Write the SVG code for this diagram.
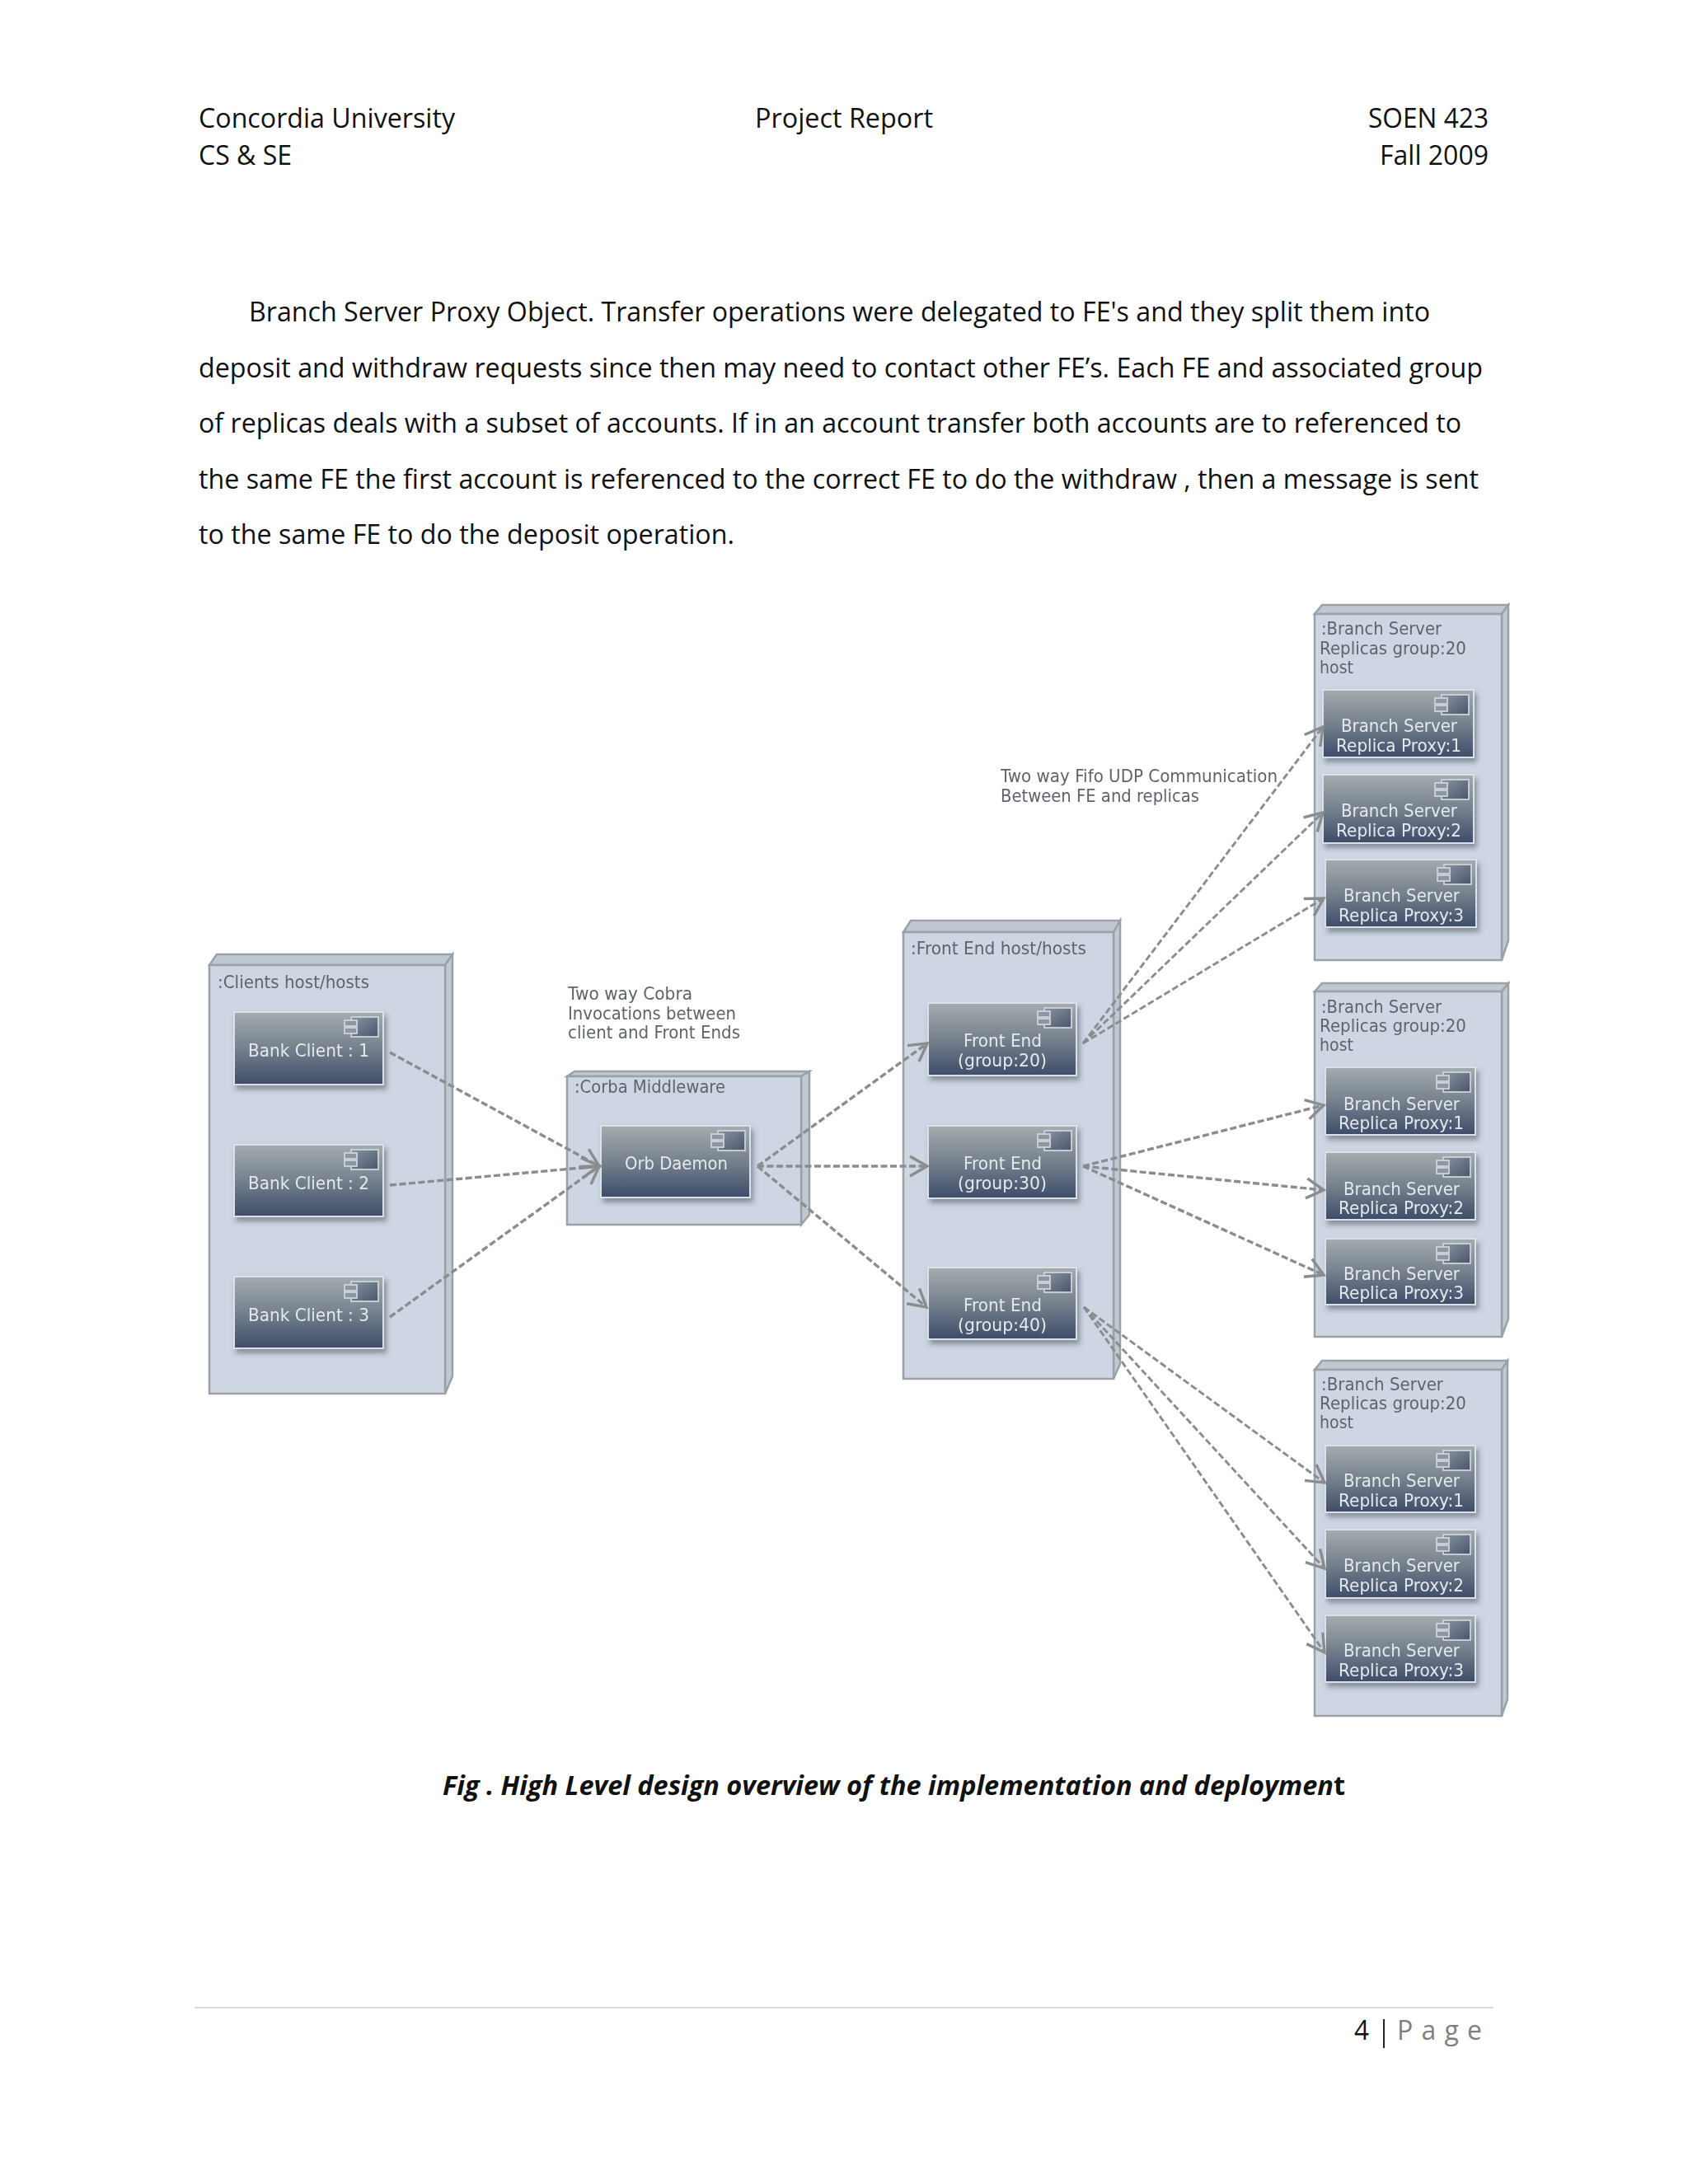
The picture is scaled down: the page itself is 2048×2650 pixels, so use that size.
<svg xmlns="http://www.w3.org/2000/svg" width="2048" height="2650" viewBox="0 0 2048 2650">
<style>
.p{font-family:"Open Sans","Liberation Sans",sans-serif;font-size:32px;fill:#111;font-variant-ligatures:none}
.cap{font-family:"Open Sans","Liberation Sans",sans-serif;font-size:33px;font-weight:700;font-style:italic;fill:#111;font-variant-ligatures:none}
.capt{font-style:normal}
.d{font-family:"DejaVu Sans","Liberation Sans",sans-serif;font-size:20.5px;fill:#5f646b}
.w{font-family:"DejaVu Sans","Liberation Sans",sans-serif;font-size:20.5px;fill:#e4e9ed}
.nf{fill:#ced6e3;stroke:#9aa2a8;stroke-width:2.5}
.ns{fill:#c0c8d2;stroke:#9aa2a8;stroke-width:2.5}
.b{fill:url(#g);stroke:#dbe1e8;stroke-width:2;filter:url(#sh)}
.c{fill:none;stroke:#8a8c8e;stroke-width:3.4;stroke-dasharray:8 3.5;marker-end:url(#a)}
.t{stroke-width:2.9}
</style>
<defs>
<linearGradient id="g" x1="0" y1="0" x2="0" y2="1"><stop offset="0" stop-color="#a5acaf"/><stop offset=".5" stop-color="#75818d"/><stop offset="1" stop-color="#3f4c69"/></linearGradient>
<linearGradient id="ig" x1="0" y1="0" x2="1" y2="1"><stop offset="0" stop-color="#8a95a0"/><stop offset="1" stop-color="#48556c"/></linearGradient>
<filter id="sh" x="-10%" y="-10%" width="125%" height="130%"><feDropShadow dx="3" dy="5" stdDeviation="3" flood-color="#3b4450" flood-opacity=".5"/></filter>
<filter id="soft" x="0" y="0" width="100%" height="100%" filterUnits="userSpaceOnUse" primitiveUnits="userSpaceOnUse"><feGaussianBlur stdDeviation=".55"/></filter>
<marker id="a" markerUnits="userSpaceOnUse" markerWidth="30" markerHeight="34" refX="24" refY="17" orient="auto"><path d="M3 5 L24 17 L3 29" fill="none" stroke="#8a8c8e" stroke-width="3.4"/></marker>
<g id="ic"><rect x="8" y="0" width="33" height="24" fill="url(#ig)" stroke="#ccd3da" stroke-width="1.8"/><rect x="0" y="4" width="15" height="7" fill="#8d97a2" stroke="#ccd3da" stroke-width="1.8"/><rect x="0" y="13" width="15" height="7" fill="#8d97a2" stroke="#ccd3da" stroke-width="1.8"/></g>
</defs>
<rect width="2048" height="2650" fill="#fff"/>

<g id="page-text">
<text class="p" x="241" y="155" textLength="311" lengthAdjust="spacingAndGlyphs">Concordia University</text>
<text class="p" x="916" y="155" textLength="216" lengthAdjust="spacingAndGlyphs">Project Report</text>
<text class="p" x="1660" y="155" textLength="146" lengthAdjust="spacingAndGlyphs">SOEN 423</text>
<text class="p" x="241" y="200" textLength="113" lengthAdjust="spacingAndGlyphs">CS &amp; SE</text>
<text class="p" x="1674" y="200" textLength="132" lengthAdjust="spacingAndGlyphs">Fall 2009</text>
<text class="p" x="302" y="390" textLength="1433" lengthAdjust="spacingAndGlyphs">Branch Server Proxy Object. Transfer operations were delegated to FE's and they split them into</text>
<text class="p" x="241" y="458" textLength="1558" lengthAdjust="spacingAndGlyphs">deposit and withdraw requests since then may need to contact other FE’s. Each FE and associated group</text>
<text class="p" x="241" y="525" textLength="1532" lengthAdjust="spacingAndGlyphs">of replicas deals with a subset of accounts. If in an account transfer both accounts are to referenced to</text>
<text class="p" x="241" y="593" textLength="1553" lengthAdjust="spacingAndGlyphs">the same FE the first account is referenced to the correct FE to do the withdraw , then a message is sent</text>
<text class="p" x="241" y="660" textLength="650" lengthAdjust="spacingAndGlyphs">to the same FE to do the deposit operation.</text>
<text class="cap" x="537" y="2178" textLength="1095" lengthAdjust="spacingAndGlyphs">Fig . High Level design overview of the implementation and deploymen<tspan class="capt">t</tspan></text>
<text class="p" x="1643" y="2475" textLength="18" lengthAdjust="spacingAndGlyphs">4</text>
<rect x="1678" y="2450" width="2" height="35" fill="#222"/>
<text class="p" x="1695" y="2475" textLength="103" lengthAdjust="spacing" style="fill:#7f7f7f">P a g e</text>
<rect x="236" y="2435" width="1576" height="2" fill="#dcdcdf"/>
</g>

<g id="diagram" filter="url(#soft)">
<g id="note-cobra">
<text class="d" x="689" y="1213" textLength="151" lengthAdjust="spacingAndGlyphs">Two way Cobra</text>
<text class="d" x="689" y="1237" textLength="204" lengthAdjust="spacingAndGlyphs">Invocations between</text>
<text class="d" x="689" y="1260" textLength="209" lengthAdjust="spacingAndGlyphs">client and Front Ends</text>
</g>
<g id="note-udp">
<text class="d" x="1214" y="949" textLength="336" lengthAdjust="spacingAndGlyphs">Two way Fifo UDP Communication</text>
<text class="d" x="1214" y="973" textLength="241" lengthAdjust="spacingAndGlyphs">Between FE and replicas</text>
</g>

<g id="clients-host">
<path class="ns" d="M254 1171 L263 1158 H549 L540 1171Z"/><path class="ns" d="M540 1171 L549 1158 V1670 L540 1691Z"/><rect class="nf" x="254" y="1171" width="286" height="520"/>
<text class="d" x="264" y="1199" textLength="184" lengthAdjust="spacingAndGlyphs">:Clients host/hosts</text>
</g>
<g id="bank-client-1"><rect class="b" x="284" y="1228" width="181" height="88"/><use href="#ic" x="418" y="1234"/><text class="w" x="301" y="1282" textLength="147" lengthAdjust="spacingAndGlyphs">Bank Client : 1</text></g>
<g id="bank-client-2"><rect class="b" x="284" y="1389" width="181" height="87"/><use href="#ic" x="418" y="1395"/><text class="w" x="301" y="1443" textLength="147" lengthAdjust="spacingAndGlyphs">Bank Client : 2</text></g>
<g id="bank-client-3"><rect class="b" x="284" y="1549" width="181" height="87"/><use href="#ic" x="418" y="1555"/><text class="w" x="301" y="1603" textLength="147" lengthAdjust="spacingAndGlyphs">Bank Client : 3</text></g>

<g id="corba-middleware">
<path class="ns" d="M688 1306 L697 1300 H982 L972 1306Z"/><path class="ns" d="M972 1306 L982 1300 V1474 L972 1486Z"/><rect class="nf" x="688" y="1306" width="284" height="180"/>
<text class="d" x="697" y="1326" textLength="183" lengthAdjust="spacingAndGlyphs">:Corba Middleware</text>
</g>
<g id="orb-daemon"><rect class="b" x="729" y="1366" width="181" height="87"/><use href="#ic" x="863" y="1372"/><text class="w" x="758" y="1419" textLength="125" lengthAdjust="spacingAndGlyphs">Orb Daemon</text></g>

<g id="front-end-host">
<path class="ns" d="M1096 1131 L1105 1117 H1359 L1351 1131Z"/><path class="ns" d="M1351 1131 L1359 1117 V1655 L1351 1673Z"/><rect class="nf" x="1096" y="1131" width="255" height="542"/>
<text class="d" x="1105" y="1158" textLength="213" lengthAdjust="spacingAndGlyphs">:Front End host/hosts</text>
</g>
<g id="front-end-20"><rect class="b" x="1126" y="1217" width="180" height="88"/><use href="#ic" x="1259" y="1223"/><text class="w" x="1169" y="1270" textLength="95" lengthAdjust="spacingAndGlyphs">Front End</text><text class="w" x="1162" y="1294" textLength="108" lengthAdjust="spacingAndGlyphs">(group:20)</text></g>
<g id="front-end-30"><rect class="b" x="1126" y="1366" width="180" height="88"/><use href="#ic" x="1259" y="1372"/><text class="w" x="1169" y="1419" textLength="95" lengthAdjust="spacingAndGlyphs">Front End</text><text class="w" x="1162" y="1443" textLength="108" lengthAdjust="spacingAndGlyphs">(group:30)</text></g>
<g id="front-end-40"><rect class="b" x="1126" y="1538" width="180" height="87"/><use href="#ic" x="1259" y="1544"/><text class="w" x="1169" y="1591" textLength="95" lengthAdjust="spacingAndGlyphs">Front End</text><text class="w" x="1162" y="1615" textLength="108" lengthAdjust="spacingAndGlyphs">(group:40)</text></g>

<g id="branch-host-1">
<path class="ns" d="M1595 745 L1604 734 H1830 L1822 745Z"/><path class="ns" d="M1822 745 L1830 734 V1141 L1822 1165Z"/><rect class="nf" x="1595" y="745" width="227" height="420"/>
<text class="d" x="1603" y="770" textLength="146" lengthAdjust="spacingAndGlyphs">:Branch Server</text>
<text class="d" x="1601" y="794" textLength="178" lengthAdjust="spacingAndGlyphs">Replicas group:20</text>
<text class="d" x="1601" y="817" textLength="41" lengthAdjust="spacingAndGlyphs">host</text>
</g>
<g id="b1-proxy-1"><rect class="b" x="1605" y="837" width="183" height="82"/><use href="#ic" x="1741" y="843"/><text class="w" x="1627" y="888" textLength="141" lengthAdjust="spacingAndGlyphs">Branch Server</text><text class="w" x="1621" y="912" textLength="152" lengthAdjust="spacingAndGlyphs">Replica Proxy:1</text></g>
<g id="b1-proxy-2"><rect class="b" x="1605" y="940" width="183" height="83"/><use href="#ic" x="1741" y="946"/><text class="w" x="1627" y="991" textLength="141" lengthAdjust="spacingAndGlyphs">Branch Server</text><text class="w" x="1621" y="1015" textLength="152" lengthAdjust="spacingAndGlyphs">Replica Proxy:2</text></g>
<g id="b1-proxy-3"><rect class="b" x="1608" y="1043" width="183" height="82"/><use href="#ic" x="1744" y="1049"/><text class="w" x="1630" y="1094" textLength="141" lengthAdjust="spacingAndGlyphs">Branch Server</text><text class="w" x="1624" y="1118" textLength="152" lengthAdjust="spacingAndGlyphs">Replica Proxy:3</text></g>

<g id="branch-host-2">
<path class="ns" d="M1595 1203 L1604 1193 H1830 L1822 1203Z"/><path class="ns" d="M1822 1203 L1830 1193 V1600 L1822 1622Z"/><rect class="nf" x="1595" y="1203" width="227" height="419"/>
<text class="d" x="1603" y="1229" textLength="146" lengthAdjust="spacingAndGlyphs">:Branch Server</text>
<text class="d" x="1601" y="1252" textLength="178" lengthAdjust="spacingAndGlyphs">Replicas group:20</text>
<text class="d" x="1601" y="1275" textLength="41" lengthAdjust="spacingAndGlyphs">host</text>
</g>
<g id="b2-proxy-1"><rect class="b" x="1608" y="1295" width="182" height="82"/><use href="#ic" x="1743" y="1301"/><text class="w" x="1630" y="1347" textLength="141" lengthAdjust="spacingAndGlyphs">Branch Server</text><text class="w" x="1624" y="1370" textLength="152" lengthAdjust="spacingAndGlyphs">Replica Proxy:1</text></g>
<g id="b2-proxy-2"><rect class="b" x="1608" y="1398" width="182" height="82"/><use href="#ic" x="1743" y="1404"/><text class="w" x="1630" y="1450" textLength="141" lengthAdjust="spacingAndGlyphs">Branch Server</text><text class="w" x="1624" y="1473" textLength="152" lengthAdjust="spacingAndGlyphs">Replica Proxy:2</text></g>
<g id="b2-proxy-3"><rect class="b" x="1608" y="1503" width="182" height="80"/><use href="#ic" x="1743" y="1509"/><text class="w" x="1630" y="1553" textLength="141" lengthAdjust="spacingAndGlyphs">Branch Server</text><text class="w" x="1624" y="1576" textLength="152" lengthAdjust="spacingAndGlyphs">Replica Proxy:3</text></g>

<g id="branch-host-3">
<path class="ns" d="M1595 1662 L1604 1651 H1829 L1822 1662Z"/><path class="ns" d="M1822 1662 L1829 1651 V2062 L1822 2082Z"/><rect class="nf" x="1595" y="1662" width="227" height="420"/>
<text class="d" x="1603" y="1687" textLength="148" lengthAdjust="spacingAndGlyphs">:Branch Server</text>
<text class="d" x="1601" y="1710" textLength="178" lengthAdjust="spacingAndGlyphs">Replicas group:20</text>
<text class="d" x="1601" y="1733" textLength="41" lengthAdjust="spacingAndGlyphs">host</text>
</g>
<g id="b3-proxy-1"><rect class="b" x="1608" y="1754" width="182" height="81"/><use href="#ic" x="1743" y="1760"/><text class="w" x="1630" y="1804" textLength="141" lengthAdjust="spacingAndGlyphs">Branch Server</text><text class="w" x="1624" y="1828" textLength="152" lengthAdjust="spacingAndGlyphs">Replica Proxy:1</text></g>
<g id="b3-proxy-2"><rect class="b" x="1608" y="1856" width="182" height="83"/><use href="#ic" x="1743" y="1862"/><text class="w" x="1630" y="1907" textLength="141" lengthAdjust="spacingAndGlyphs">Branch Server</text><text class="w" x="1624" y="1931" textLength="152" lengthAdjust="spacingAndGlyphs">Replica Proxy:2</text></g>
<g id="b3-proxy-3"><rect class="b" x="1608" y="1960" width="182" height="81"/><use href="#ic" x="1743" y="1966"/><text class="w" x="1630" y="2010" textLength="141" lengthAdjust="spacingAndGlyphs">Branch Server</text><text class="w" x="1624" y="2034" textLength="152" lengthAdjust="spacingAndGlyphs">Replica Proxy:3</text></g>

<g id="connectors">
<line class="c" x1="473" y1="1277" x2="727" y2="1415"/>
<line class="c" x1="473" y1="1438" x2="727" y2="1415"/>
<line class="c" x1="473" y1="1598" x2="727" y2="1415"/>
<line class="c" x1="919" y1="1415" x2="1125" y2="1266"/>
<line class="c" x1="919" y1="1415" x2="1125" y2="1415"/>
<line class="c" x1="919" y1="1415" x2="1124" y2="1586"/>
<line class="c t" x1="1314" y1="1266" x2="1605" y2="882"/>
<line class="c t" x1="1314" y1="1266" x2="1605" y2="986"/>
<line class="c t" x1="1314" y1="1266" x2="1606" y2="1090"/>
<line class="c" x1="1314" y1="1415" x2="1606" y2="1341"/>
<line class="c" x1="1314" y1="1415" x2="1606" y2="1444"/>
<line class="c" x1="1314" y1="1415" x2="1606" y2="1547"/>
<line class="c t" x1="1315" y1="1586" x2="1607" y2="1799"/>
<line class="c t" x1="1315" y1="1586" x2="1607" y2="1903"/>
<line class="c t" x1="1315" y1="1586" x2="1607" y2="2005"/>
</g>
</g>
</svg>
